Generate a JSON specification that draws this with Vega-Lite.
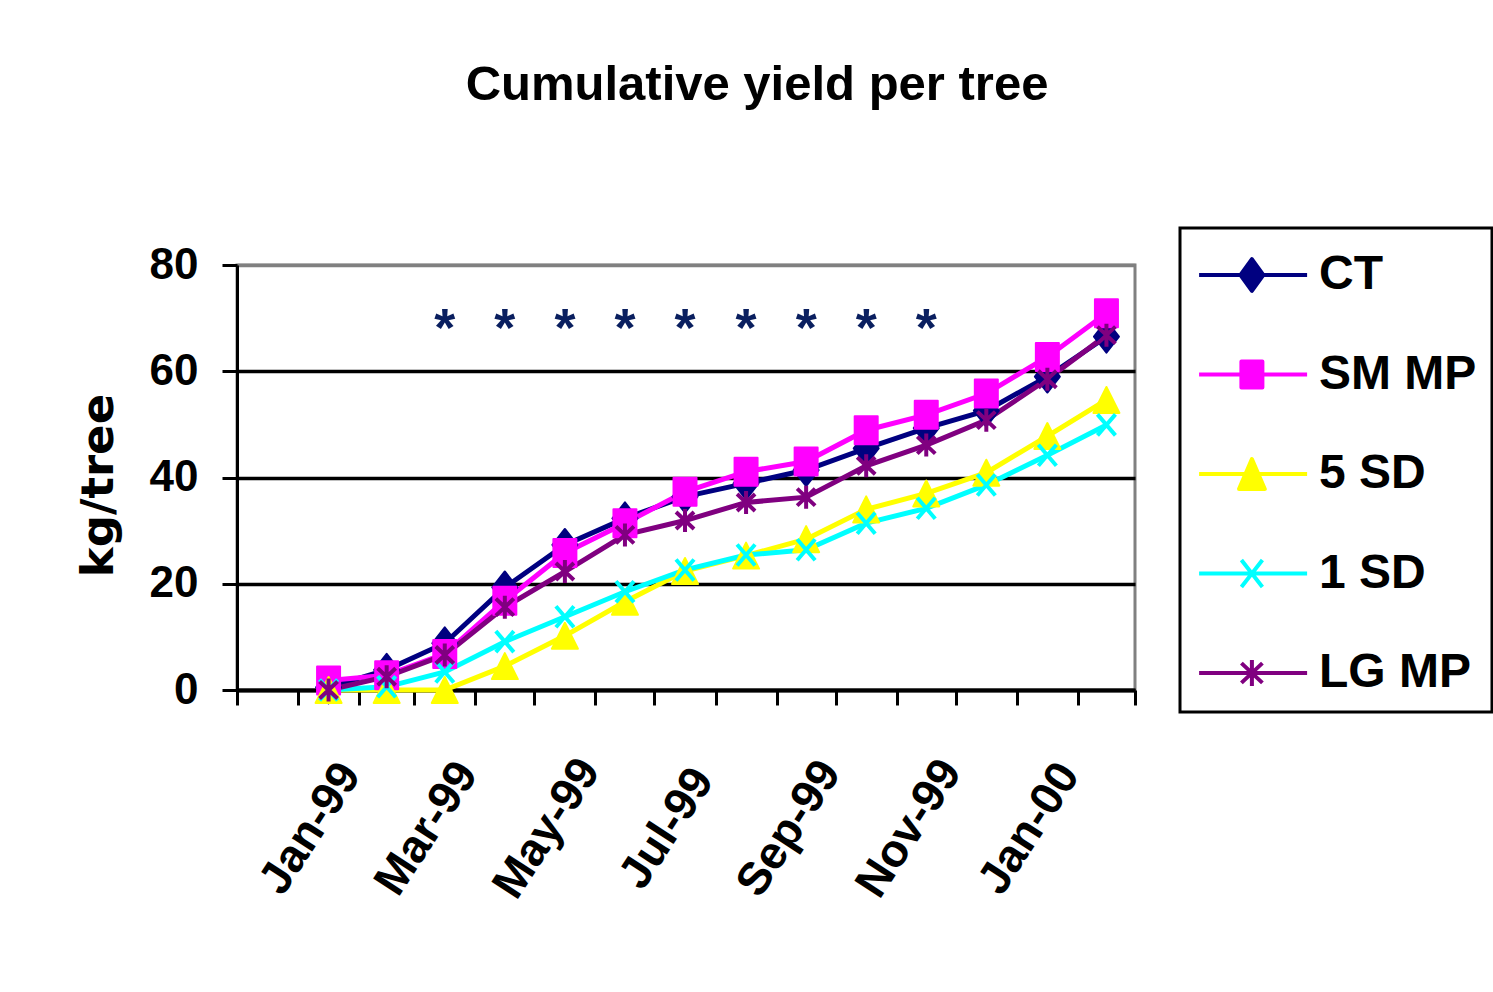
{
  "$schema": "https://vega.github.io/schema/vega-lite/v6.json",
  "width": 898,
  "height": 425,
  "autosize": {"type": "none"},
  "padding": {"left": 237, "top": 265, "right": 358, "bottom": 302},
  "background": "white",
  "title": {"text": "Cumulative yield per tree", "font": "Liberation Sans", "fontSize": 49, "fontWeight": "bold", "color": "black", "anchor": "middle", "dx": 71, "offset": 117},
  "config": {"view": {"stroke": "#808080", "strokeWidth": 3}},
  "datasets": {
    "yield": [
      {"month": "1999-01-01", "series": "CT", "kg": 0.5},
      {"month": "1999-02-01", "series": "CT", "kg": 3.8},
      {"month": "1999-03-01", "series": "CT", "kg": 8.8},
      {"month": "1999-04-01", "series": "CT", "kg": 19.3},
      {"month": "1999-05-01", "series": "CT", "kg": 27.3},
      {"month": "1999-06-01", "series": "CT", "kg": 32.3},
      {"month": "1999-07-01", "series": "CT", "kg": 36.4},
      {"month": "1999-08-01", "series": "CT", "kg": 38.9},
      {"month": "1999-09-01", "series": "CT", "kg": 41.4},
      {"month": "1999-10-01", "series": "CT", "kg": 45.5},
      {"month": "1999-11-01", "series": "CT", "kg": 49.3},
      {"month": "1999-12-01", "series": "CT", "kg": 52.6},
      {"month": "2000-01-01", "series": "CT", "kg": 59.0},
      {"month": "2000-02-01", "series": "CT", "kg": 66.5},
      {"month": "1999-01-01", "series": "SM MP", "kg": 1.8},
      {"month": "1999-02-01", "series": "SM MP", "kg": 2.8},
      {"month": "1999-03-01", "series": "SM MP", "kg": 6.8},
      {"month": "1999-04-01", "series": "SM MP", "kg": 16.8},
      {"month": "1999-05-01", "series": "SM MP", "kg": 25.8},
      {"month": "1999-06-01", "series": "SM MP", "kg": 31.4},
      {"month": "1999-07-01", "series": "SM MP", "kg": 37.3},
      {"month": "1999-08-01", "series": "SM MP", "kg": 41.1},
      {"month": "1999-09-01", "series": "SM MP", "kg": 43.0},
      {"month": "1999-10-01", "series": "SM MP", "kg": 48.9},
      {"month": "1999-11-01", "series": "SM MP", "kg": 51.8},
      {"month": "1999-12-01", "series": "SM MP", "kg": 55.8},
      {"month": "2000-01-01", "series": "SM MP", "kg": 62.7},
      {"month": "2000-02-01", "series": "SM MP", "kg": 70.9},
      {"month": "1999-01-01", "series": "5 SD", "kg": 0},
      {"month": "1999-02-01", "series": "5 SD", "kg": 0},
      {"month": "1999-03-01", "series": "5 SD", "kg": 0},
      {"month": "1999-04-01", "series": "5 SD", "kg": 4.5},
      {"month": "1999-05-01", "series": "5 SD", "kg": 10.2},
      {"month": "1999-06-01", "series": "5 SD", "kg": 16.6},
      {"month": "1999-07-01", "series": "5 SD", "kg": 22.4},
      {"month": "1999-08-01", "series": "5 SD", "kg": 25.3},
      {"month": "1999-09-01", "series": "5 SD", "kg": 28.4},
      {"month": "1999-10-01", "series": "5 SD", "kg": 34.0},
      {"month": "1999-11-01", "series": "5 SD", "kg": 37.0},
      {"month": "1999-12-01", "series": "5 SD", "kg": 40.9},
      {"month": "2000-01-01", "series": "5 SD", "kg": 47.8},
      {"month": "2000-02-01", "series": "5 SD", "kg": 54.6},
      {"month": "1999-01-01", "series": "1 SD", "kg": 0},
      {"month": "1999-02-01", "series": "1 SD", "kg": 0.6},
      {"month": "1999-03-01", "series": "1 SD", "kg": 3.4},
      {"month": "1999-04-01", "series": "1 SD", "kg": 9.1},
      {"month": "1999-05-01", "series": "1 SD", "kg": 13.8},
      {"month": "1999-06-01", "series": "1 SD", "kg": 18.5},
      {"month": "1999-07-01", "series": "1 SD", "kg": 22.6},
      {"month": "1999-08-01", "series": "1 SD", "kg": 25.4},
      {"month": "1999-09-01", "series": "1 SD", "kg": 26.4},
      {"month": "1999-10-01", "series": "1 SD", "kg": 31.4},
      {"month": "1999-11-01", "series": "1 SD", "kg": 34.2},
      {"month": "1999-12-01", "series": "1 SD", "kg": 38.6},
      {"month": "2000-01-01", "series": "1 SD", "kg": 44.2},
      {"month": "2000-02-01", "series": "1 SD", "kg": 49.9},
      {"month": "1999-01-01", "series": "LG MP", "kg": 0},
      {"month": "1999-02-01", "series": "LG MP", "kg": 2.5},
      {"month": "1999-03-01", "series": "LG MP", "kg": 6.6},
      {"month": "1999-04-01", "series": "LG MP", "kg": 15.6},
      {"month": "1999-05-01", "series": "LG MP", "kg": 22.3},
      {"month": "1999-06-01", "series": "LG MP", "kg": 29.2},
      {"month": "1999-07-01", "series": "LG MP", "kg": 31.9},
      {"month": "1999-08-01", "series": "LG MP", "kg": 35.3},
      {"month": "1999-09-01", "series": "LG MP", "kg": 36.3},
      {"month": "1999-10-01", "series": "LG MP", "kg": 42.2},
      {"month": "1999-11-01", "series": "LG MP", "kg": 46.1},
      {"month": "1999-12-01", "series": "LG MP", "kg": 50.8},
      {"month": "2000-01-01", "series": "LG MP", "kg": 58.5},
      {"month": "2000-02-01", "series": "LG MP", "kg": 66.8}
    ],
    "sig": [
      {"month": "1999-03-01", "mark": "*"},
      {"month": "1999-04-01", "mark": "*"},
      {"month": "1999-05-01", "mark": "*"},
      {"month": "1999-06-01", "mark": "*"},
      {"month": "1999-07-01", "mark": "*"},
      {"month": "1999-08-01", "mark": "*"},
      {"month": "1999-09-01", "mark": "*"},
      {"month": "1999-10-01", "mark": "*"},
      {"month": "1999-11-01", "mark": "*"}
    ]
  },
  "layer": [
    {
      "data": {"name": "yield"},
      "mark": {"type": "line", "strokeWidth": 5},
      "encoding": {
        "x": {
          "field": "month", "timeUnit": "utcyearmonth", "type": "temporal", "bandPosition": 0.5, "title": null,
          "scale": {"domain": [{"year": 1998, "month": 12, "date": 1, "utc": true}, {"year": 2000, "month": 3, "date": 1, "utc": true}], "nice": false},
          "axis": {
            "tickCount": {"interval": "month", "step": 1},
            "labelExpr": "utcmonth(datum.value) % 2 === 0 && datum.value < utc(2000, 1, 15) ? utcFormat(datum.value, '%b-%y') : ''",
            "labelOverlap": false, "labelFlush": false, "labelBound": false,
            "labelAngle": -57, "labelAlign": "center", "labelBaseline": "middle",
            "labelOffset": 12, "labelPadding": 123,
            "labelFont": "Liberation Sans", "labelFontSize": 46, "labelFontWeight": "bold", "labelColor": "black",
            "tickSize": 15, "tickWidth": 3, "tickColor": "black",
            "domainColor": "black", "domainWidth": 4, "grid": false
          }
        },
        "y": {
          "field": "kg", "type": "quantitative",
          "scale": {"domain": [0, 80], "nice": false},
          "axis": {
            "values": [0, 20, 40, 60, 80],
            "grid": true, "gridWidth": 3.5,
            "gridColor": {"condition": {"test": "datum.value === 80", "value": "#808080"}, "value": "black"},
            "domainColor": "black", "domainWidth": 3,
            "tickColor": "black", "tickWidth": 3, "tickSize": 15,
            "labelFont": "Liberation Sans", "labelFontSize": 44, "labelFontWeight": "bold", "labelColor": "black", "labelPadding": 24, "labelFlush": false,
            "title": "kg/tree", "titleFont": "DejaVu Sans", "titleFontSize": 45, "titleFontWeight": "bold", "titleColor": "black",
            "titleX": -139, "titleY": 220, "titleAngle": -90, "titleAlign": "center", "titleBaseline": "middle"
          }
        },
        "color": {
          "field": "series", "type": "nominal",
          "scale": {"domain": ["CT", "SM MP", "5 SD", "1 SD", "LG MP"], "range": ["#000080", "#FF00FF", "#FFFF00", "#00FFFF", "#800080"]},
          "legend": {
            "title": null, "orient": "none", "legendX": 943, "legendY": -37,
            "padding": 15, "rowPadding": 43.5, "symbolSize": 3600,
            "labelFont": "Liberation Sans", "labelFontSize": 48, "labelFontWeight": "bold", "labelColor": "black",
            "labelOffset": 60, "labelLimit": 400,
            "strokeColor": "black", "symbolStrokeWidth": 4,
            "encode": {
              "symbols": {"update": {
                "shape": {"signal": "datum.value === 'CT' ? 'M-0.93,0H2.67M0.83,-0.53L1.21,0L0.83,0.53L0.45,0Z' : datum.value === 'SM MP' ? 'M-0.93,0H2.67M0.48,-0.43H1.18V0.43H0.48Z' : datum.value === '5 SD' ? 'M-0.93,0H2.67M0.83,-0.5L1.26,0.5H0.4Z' : datum.value === '1 SD' ? 'M-0.93,0H2.67M0.48,-0.45L1.18,0.45M1.18,-0.45L0.48,0.45' : 'M-0.93,0H2.67M0.83,-0.43V0.43M0.48,-0.33L1.18,0.33M1.18,-0.33L0.48,0.33'"},
                "fill": {"scale": "color", "field": "value"},
                "stroke": {"scale": "color", "field": "value"},
                "strokeWidth": {"value": 4},
                "strokeJoin": {"value": "round"},
                "size": {"value": 3600},
                "opacity": {"value": 1}
              }},
              "legend": {"update": {"strokeWidth": {"value": 3}}}
            }
          }
        }
      }
    },
    {
      "data": {"name": "yield"},
      "transform": [{"filter": "datum.series === 'CT' || datum.series === 'SM MP' || datum.series === '5 SD'"}],
      "mark": {"type": "point", "filled": true, "opacity": 1, "size": 400, "strokeWidth": 2, "strokeJoin": "round"},
      "encoding": {
        "x": {"field": "month", "timeUnit": "utcyearmonth", "type": "temporal", "bandPosition": 0.5},
        "y": {"field": "kg", "type": "quantitative"},
        "color": {"field": "series", "type": "nominal"},
        "stroke": {"field": "series", "type": "nominal", "scale": {"domain": ["CT", "SM MP", "5 SD", "1 SD", "LG MP"], "range": ["#000080", "#FF00FF", "#FFFF00", "#00FFFF", "#800080"]}, "legend": null},
        "shape": {"field": "series", "type": "nominal", "scale": {"domain": ["CT", "SM MP", "5 SD"], "range": ["M0,-1.6L1.25,0L0,1.6L-1.25,0Z", "M-1.15,-1.4H1.15V1.4H-1.15Z", "M0,-1.3L1.3,1.3H-1.3Z"]}, "legend": null}
      }
    },
    {
      "data": {"name": "yield"},
      "transform": [{"filter": "datum.series === '1 SD' || datum.series === 'LG MP'"}],
      "mark": {"type": "point", "filled": false, "opacity": 1, "size": 400, "strokeWidth": 4},
      "encoding": {
        "x": {"field": "month", "timeUnit": "utcyearmonth", "type": "temporal", "bandPosition": 0.5},
        "y": {"field": "kg", "type": "quantitative"},
        "color": {"field": "series", "type": "nominal"},
        "shape": {"field": "series", "type": "nominal", "scale": {"domain": ["1 SD", "LG MP"], "range": ["M-0.9,-1.05L0.9,1.05M0.9,-1.05L-0.9,1.05", "M0,-1.15V1.15M-0.9,-0.85L0.9,0.85M0.9,-0.85L-0.9,0.85"]}, "legend": null}
      }
    },
    {
      "data": {"name": "sig"},
      "mark": {"type": "text", "font": "Liberation Sans", "fontSize": 54, "fontWeight": "bold", "color": "#0a1f5f", "baseline": "alphabetic", "align": "center", "dy": 28},
      "encoding": {
        "x": {"field": "month", "timeUnit": "utcyearmonth", "type": "temporal", "bandPosition": 0.5},
        "y": {"datum": 70, "type": "quantitative"},
        "text": {"field": "mark"}
      }
    }
  ],
  "resolve": {"scale": {"shape": "independent"}}
}
